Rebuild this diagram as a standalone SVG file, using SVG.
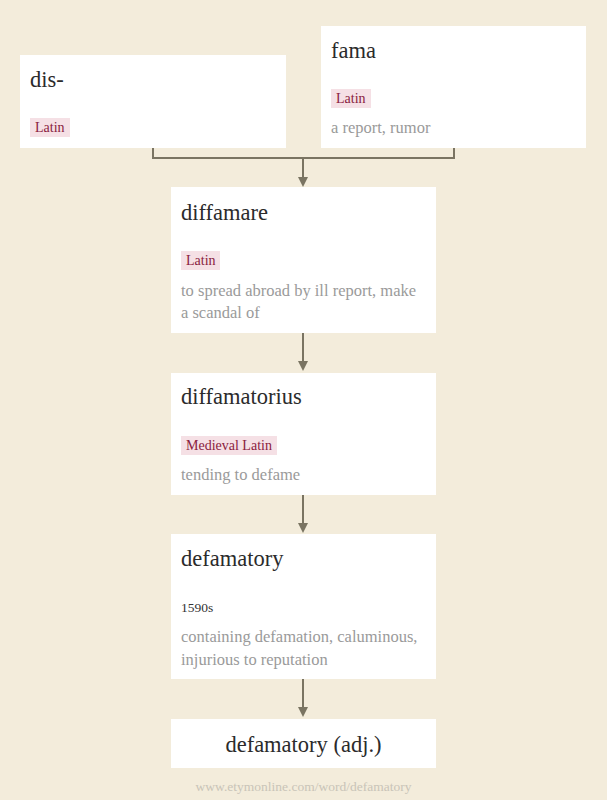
<svg xmlns="http://www.w3.org/2000/svg" width="607" height="800" viewBox="0 0 607 800">
<defs>
<style>
.box{fill:#ffffff}
.title{font-family:"Liberation Serif",Georgia,serif;font-size:22.5px;fill:#2b2b2b}
.desc{font-family:"Liberation Serif",Georgia,serif;font-size:16.5px;fill:#9a9a9a}
.tagbg{fill:#f5e0e5}
.tag{font-family:"Liberation Serif",Georgia,serif;font-size:14px;fill:#8a2040}
.date{font-family:"Liberation Serif",Georgia,serif;font-size:13.5px;fill:#333333}
.line{fill:none;stroke:#7a7462;stroke-width:2}
.head{fill:#7a7462}
.foot{font-family:"Liberation Serif",Georgia,serif;font-size:13.5px;fill:#c9c4b8}
</style>
</defs>
<rect width="607" height="800" fill="#f3ecdb"/>
<g id="connectors">
<path class="line" d="M153,148 V158 H454 V148"/>
<path class="line" d="M303,158 V178"/>
<path class="head" d="M298,177 L308,177 L303,187 Z"/>
<path class="line" d="M303,333 V362"/>
<path class="head" d="M298,361 L308,361 L303,371 Z"/>
<path class="line" d="M303,495 V524"/>
<path class="head" d="M298,523 L308,523 L303,533 Z"/>
<path class="line" d="M303,679 V708"/>
<path class="head" d="M298,707 L308,707 L303,717 Z"/>
</g>
<g id="node-dis">
<rect class="box" x="20" y="55" width="266" height="93"/>
<text class="title" x="30" y="87">dis-</text>
<rect class="tagbg" x="30" y="118" width="40" height="19"/>
<text class="tag" x="35" y="132">Latin</text>
</g>
<g id="node-fama">
<rect class="box" x="321" y="26" width="265" height="122"/>
<text class="title" x="331" y="58">fama</text>
<rect class="tagbg" x="331" y="89" width="40" height="19"/>
<text class="tag" x="336" y="103">Latin</text>
<text class="desc" x="331" y="133">a report, rumor</text>
</g>
<g id="node-diffamare">
<rect class="box" x="171" y="187" width="265" height="146"/>
<text class="title" x="181" y="220">diffamare</text>
<rect class="tagbg" x="181" y="251" width="39" height="19"/>
<text class="tag" x="186" y="265">Latin</text>
<text class="desc" x="181" y="296">to spread abroad by ill report, make</text>
<text class="desc" x="181" y="318">a scandal of</text>
</g>
<g id="node-diffamatorius">
<rect class="box" x="171" y="373" width="265" height="122"/>
<text class="title" x="181" y="404">diffamatorius</text>
<rect class="tagbg" x="181" y="436" width="96" height="19"/>
<text class="tag" x="186" y="450">Medieval Latin</text>
<text class="desc" x="181" y="480">tending to defame</text>
</g>
<g id="node-defamatory">
<rect class="box" x="171" y="534" width="265" height="145"/>
<text class="title" x="181" y="566">defamatory</text>
<text class="date" x="181" y="612">1590s</text>
<text class="desc" x="181" y="642">containing defamation, caluminous,</text>
<text class="desc" x="181" y="665">injurious to reputation</text>
</g>
<g id="node-final">
<rect class="box" x="171" y="719" width="265" height="49"/>
<text class="title" x="303.5" y="752" text-anchor="middle">defamatory (adj.)</text>
</g>
<text class="foot" x="303.5" y="791" text-anchor="middle">www.etymonline.com/word/defamatory</text>
</svg>
